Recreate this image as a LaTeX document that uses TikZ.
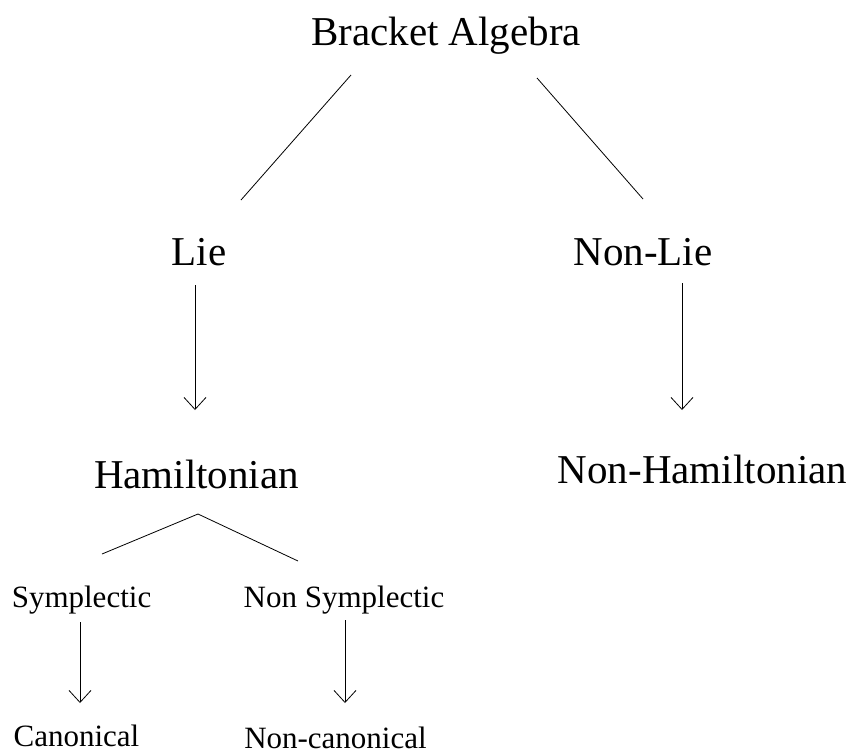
\documentclass[tikz,border=0pt]{standalone}
\usepackage{fontspec}
\setmainfont{Liberation Serif}
\usetikzlibrary{arrows.meta}

\begin{document}
\begin{tikzpicture}[x=1pt, y=-1pt,
  big/.style   = {inner sep=0, anchor=base, font=\fontsize{41}{48}\selectfont},
  small/.style = {inner sep=0, anchor=base, font=\fontsize{31}{37}\selectfont},
  link/.style  = {line width=0.8pt},
  down/.style  = {line width=0.8pt, -{Straight Barb[length=12pt,width=22pt,line width=0.8pt]}}]

 \useasboundingbox (0,0) rectangle (854,753);

 \node(brk)[big]     at (446,45)    {Bracket Algebra};
 \node(lie)[big]     at (199,265)   {Lie};
 \node(nonlie)[big]  at (643,265)   {Non-Lie};
 \node(ham)[big]     at (196.5,488) {Hamiltonian};
 \node(nonham)[big]  at (702.5,483) {Non-Hamiltonian};
 \node(sym)[small]   at (81.5,607)  {Symplectic};
 \node(nsym)[small]  at (344,607)   {Non Symplectic};
 \node(can)[small]   at (76.5,746)  {Canonical};
 \node(ncan)[small]  at (335.5,748) {Non-canonical};

 \draw[link] ([shift={(-95,30)}]brk.base) -- ([shift={(42,-65)}]lie.base);
 \draw[link] ([shift={(91,33)}]brk.base) -- ([shift={(0,-66)}]nonlie.base);

 \draw[down] ([shift={(-4,20)}]lie.base) -- ([shift={(-1.5,-78)}]ham.base);
 \draw[down] ([shift={(39,18)}]nonlie.base) -- ([shift={(-20.5,-73)}]nonham.base);

 \draw[link] ([shift={(20.5,-53)}]sym.base) -- ([shift={(1.5,26)}]ham.base)
   -- ([shift={(-46,-46)}]nsym.base);

 \draw[down] ([shift={(-1.5,15)}]sym.base) -- ([shift={(3.5,-43)}]can.base);
 \draw[down] ([shift={(1,13)}]nsym.base) -- ([shift={(9.5,-45)}]ncan.base);

\end{tikzpicture}
\end{document}
